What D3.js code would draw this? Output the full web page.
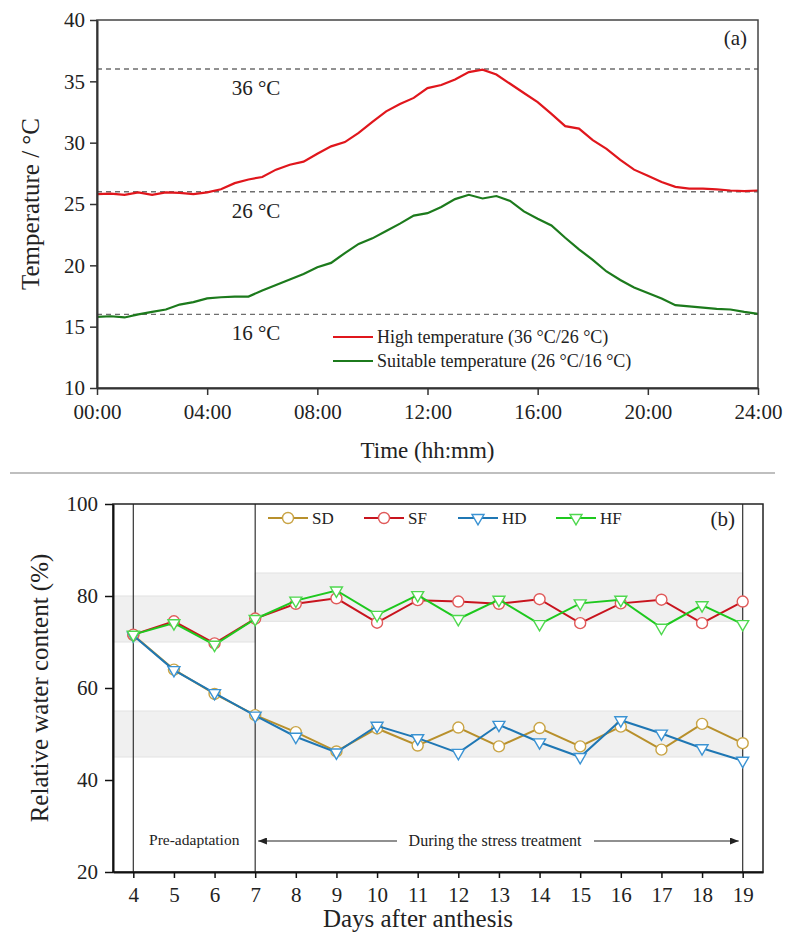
<!DOCTYPE html>
<html>
<head>
<meta charset="utf-8">
<script src="https://cdn.jsdelivr.net/npm/d3@7"></script>
<style>
body { margin: 0; background: #fff; }
text { font-family: "Liberation Serif", "Times New Roman", serif; fill: #222; }
</style>
</head>
<body>
<svg id="chart" width="785" height="940"></svg>
<script>
// panel (a): hourly temperature, sampled every 30 min
var hours = d3.range(0, 24.01, 0.5);
var highTemp = [25.8, 25.85, 25.75, 25.95, 25.75, 25.95, 25.9, 25.8, 25.95, 26.2,
  26.7, 27.0, 27.2, 27.8, 28.2, 28.45, 29.1, 29.7, 30.05, 30.8,
  31.7, 32.55, 33.15, 33.65, 34.45, 34.7, 35.15, 35.75, 35.95, 35.55,
  34.8, 34.05, 33.3, 32.35, 31.35, 31.15, 30.2, 29.5, 28.6, 27.8,
  27.3, 26.8, 26.4, 26.25, 26.25, 26.2, 26.1, 26.05, 26.1];
var suitTemp = [15.8, 15.85, 15.75, 16.0, 16.2, 16.4, 16.8, 17.0, 17.3, 17.4,
  17.45, 17.45, 17.95, 18.4, 18.85, 19.3, 19.85, 20.2, 21.0, 21.75,
  22.2, 22.8, 23.4, 24.05, 24.25, 24.75, 25.4, 25.75, 25.45, 25.65,
  25.25, 24.4, 23.8, 23.25, 22.25, 21.3, 20.45, 19.5, 18.8, 18.2,
  17.75, 17.3, 16.75, 16.65, 16.55, 16.45, 16.4, 16.2, 16.05];
var refTemps = [36, 26, 16];
var timeTicks = [0, 4, 8, 12, 16, 20, 24];
var tempTicks = [10, 15, 20, 25, 30, 35, 40];

// panel (b): relative water content
var days = [4, 5, 6, 7, 8, 9, 10, 11, 12, 13, 14, 15, 16, 17, 18, 19];
var sdVals = [71.5, 64.0, 58.7, 54.1, 50.4, 46.2, 51.2, 47.5, 51.4, 47.3, 51.3, 47.3, 51.6, 46.6, 52.2, 48.0];
var sfVals = [71.6, 74.5, 69.7, 75.1, 78.3, 79.5, 74.2, 79.1, 78.8, 78.3, 79.3, 74.1, 78.4, 79.2, 74.1, 78.8];
var hdVals = [71.4, 63.9, 58.9, 54.0, 49.4, 46.0, 51.8, 49.1, 45.9, 52.0, 48.2, 45.0, 53.0, 50.1, 46.9, 44.2];
var hfVals = [71.6, 74.1, 69.4, 75.0, 79.0, 81.2, 75.9, 80.2, 75.0, 79.2, 73.9, 78.4, 79.2, 73.1, 78.0, 73.9];
var rwcTicks = [20, 40, 60, 80, 100];
var bands = [{x0: 3.5, x1: 7, y0: 70, y1: 80}, {x0: 7, x1: 19, y0: 74.5, y1: 85}, {x0: 3.5, x1: 19, y0: 45, y1: 55}];
var phaseDays = [4, 7, 19];

var svg = d3.select("#chart");

// ---------- panel (a)
var xa = d3.scaleLinear().domain([0, 24]).range([97, 758]);
var ya = d3.scaleLinear().domain([10, 40]).range([388, 20]);

var ga = svg.append("g");

ga.selectAll("line.ref")
  .data(refTemps)
  .enter().append("line")
  .attr("x1", xa(0)).attr("x2", xa(24))
  .attr("y1", function(d){ return ya(d); })
  .attr("y2", function(d){ return ya(d); })
  .attr("stroke", "#6e6e6e")
  .attr("stroke-width", 1.4)
  .attr("stroke-dasharray", "5,4");

ga.selectAll("text.ref")
  .data(refTemps)
  .enter().append("text")
  .attr("x", 256)
  .attr("y", function(d){ return ya(d) + 26; })
  .attr("text-anchor", "middle")
  .style("font-size", "21px")
  .text(function(d){ return d + " °C"; });

var lineA = d3.line()
  .x(function(d, i){ return xa(hours[i]); })
  .y(function(d){ return ya(d); });

ga.append("path").datum(highTemp)
  .attr("d", lineA).attr("fill", "none")
  .attr("stroke", "#e0161c").attr("stroke-width", 2.2);
ga.append("path").datum(suitTemp)
  .attr("d", lineA).attr("fill", "none")
  .attr("stroke", "#1c7a1c").attr("stroke-width", 2.2);

// frame
ga.append("rect")
  .attr("x", xa(0)).attr("y", ya(40))
  .attr("width", xa(24) - xa(0)).attr("height", ya(10) - ya(40))
  .attr("fill", "none").attr("stroke", "#444").attr("stroke-width", 1.5);

var axYa = ga.append("g").attr("transform", "translate(" + xa(0) + ",0)")
  .call(d3.axisLeft(ya).tickValues(tempTicks).tickSize(7).tickPadding(5).tickSizeOuter(0));
var axXa = ga.append("g").attr("transform", "translate(0," + ya(10) + ")")
  .call(d3.axisBottom(xa).tickValues(timeTicks).tickSize(7).tickPadding(9).tickSizeOuter(0)
    .tickFormat(function(d){ return (d < 10 ? "0" : "") + d + ":00"; }));

[axYa, axXa].forEach(function(ax){
  ax.select(".domain").attr("stroke", "#333").attr("stroke-width", 2);
  ax.selectAll(".tick line").attr("stroke", "#333").attr("stroke-width", 1.5);
  ax.selectAll(".tick text").style("font-size", "21px").style("font-family", "Liberation Serif").attr("fill", "#222");
});

ga.append("text")
  .attr("transform", "translate(39," + ((ya(10) + ya(40)) / 2) + ") rotate(-90)")
  .attr("text-anchor", "middle")
  .style("font-size", "25px")
  .text("Temperature / °C");
ga.append("text")
  .attr("x", (xa(0) + xa(24)) / 2).attr("y", 458)
  .attr("text-anchor", "middle")
  .style("font-size", "23px")
  .text("Time (hh:mm)");
ga.append("text")
  .attr("x", 747).attr("y", 45)
  .attr("text-anchor", "end")
  .style("font-size", "21px")
  .text("(a)");

var legA = [{name: "High temperature (36 °C/26 °C)", color: "#e0161c"},
            {name: "Suitable temperature (26 °C/16 °C)", color: "#1c7a1c"}];
var lgA = ga.selectAll("g.lega").data(legA).enter().append("g")
  .attr("transform", function(d, i){ return "translate(333," + (337 + i * 24) + ")"; });
lgA.append("line").attr("x1", 0).attr("x2", 40)
  .attr("stroke", function(d){ return d.color; }).attr("stroke-width", 2.2);
lgA.append("text").attr("x", 44).attr("dy", "0.35em")
  .style("font-size", "18px")
  .text(function(d){ return d.name; });

// separator between panels
svg.append("line").attr("x1", 10).attr("x2", 775).attr("y1", 473).attr("y2", 473)
  .attr("stroke", "#aaa").attr("stroke-width", 1.5);

// ---------- panel (b)
var xb = d3.scaleLinear().domain([3.5, 19.5]).range([113, 763]);
var yb = d3.scaleLinear().domain([20, 100]).range([872, 504]);
var gb = svg.append("g");

gb.selectAll("rect.band").data(bands).enter().append("rect")
  .attr("x", function(d){ return xb(d.x0); })
  .attr("y", function(d){ return yb(d.y1); })
  .attr("width", function(d){ return xb(d.x1) - xb(d.x0); })
  .attr("height", function(d){ return yb(d.y0) - yb(d.y1); })
  .attr("fill", "#f0f0f0").attr("stroke", "#e2e2e2").attr("stroke-width", 1);

gb.selectAll("line.phase").data(phaseDays).enter().append("line")
  .attr("x1", function(d){ return xb(d); }).attr("x2", function(d){ return xb(d); })
  .attr("y1", yb(100)).attr("y2", yb(20))
  .attr("stroke", "#333").attr("stroke-width", 1.2);

var series = [
  {name: "SD", vals: sdVals, color: "#b8902c", mk: "#c9a445", shape: "circle"},
  {name: "SF", vals: sfVals, color: "#c8141e", mk: "#e05a5a", shape: "circle"},
  {name: "HD", vals: hdVals, color: "#1f77b4", mk: "#3b93d3", shape: "tri"},
  {name: "HF", vals: hfVals, color: "#1ec81e", mk: "#4fd84f", shape: "tri"}
];

var lineB = d3.line()
  .x(function(d, i){ return xb(days[i]); })
  .y(function(d){ return yb(d); });
var triPath = d3.symbol().type(d3.symbolTriangle).size(62)();

function drawMarker(sel, s) {
  if (s.shape === "circle") {
    sel.append("circle").attr("r", 5.5)
      .attr("fill", "#fff").attr("stroke", s.mk).attr("stroke-width", 1.4);
  } else {
    sel.append("path").attr("d", triPath).attr("transform", "rotate(180)")
      .attr("fill", "#fff").attr("stroke", s.mk).attr("stroke-width", 1.4);
  }
}

series.forEach(function(s){
  var g = gb.append("g");
  g.append("path").datum(s.vals).attr("d", lineB)
    .attr("fill", "none").attr("stroke", s.color).attr("stroke-width", 2);
  g.selectAll("g.pt").data(s.vals).enter().append("g")
    .attr("transform", function(d, i){ return "translate(" + xb(days[i]) + "," + yb(d) + ")"; })
    .each(function(){ drawMarker(d3.select(this), s); });
});

// frame
gb.append("rect")
  .attr("x", xb(3.5)).attr("y", yb(100))
  .attr("width", xb(19.5) - xb(3.5)).attr("height", yb(20) - yb(100))
  .attr("fill", "none").attr("stroke", "#222").attr("stroke-width", 1.5);

var axYb = gb.append("g").attr("transform", "translate(" + xb(3.5) + ",0)")
  .call(d3.axisLeft(yb).tickValues(rwcTicks).tickSize(8).tickPadding(7).tickSizeOuter(0));
var axXb = gb.append("g").attr("transform", "translate(0," + yb(20) + ")")
  .call(d3.axisBottom(xb).tickValues(days).tickSize(6).tickPadding(9).tickSizeOuter(0));

[axYb, axXb].forEach(function(ax){
  ax.select(".domain").attr("stroke", "#111").attr("stroke-width", 2);
  ax.selectAll(".tick line").attr("stroke", "#111").attr("stroke-width", 1.5);
  ax.selectAll(".tick text").style("font-size", "21px").style("font-family", "Liberation Serif").attr("fill", "#222");
});

gb.append("text")
  .attr("transform", "translate(48," + ((yb(20) + yb(100)) / 2) + ") rotate(-90)")
  .attr("text-anchor", "middle")
  .style("font-size", "25px")
  .text("Relative water content (%)");
gb.append("text")
  .attr("x", 418).attr("y", 927)
  .attr("text-anchor", "middle")
  .style("font-size", "25px")
  .text("Days after anthesis");
gb.append("text")
  .attr("x", 735).attr("y", 526)
  .attr("text-anchor", "end")
  .style("font-size", "21px")
  .text("(b)");

var lgB = gb.selectAll("g.legb").data(series).enter().append("g")
  .attr("transform", function(d, i){ return "translate(" + [268, 364, 458, 556][i] + ",518)"; });
lgB.append("line").attr("x1", 0).attr("x2", 40)
  .attr("stroke", function(d){ return d.color; }).attr("stroke-width", 2);
lgB.each(function(s){
  var m = d3.select(this).append("g").attr("transform", "translate(20,0)");
  drawMarker(m, s);
});
lgB.append("text").attr("x", 44).attr("dy", "0.35em")
  .style("font-size", "17px")
  .text(function(d){ return d.name; });

// phase annotations
var defs = svg.append("defs");
defs.append("marker").attr("id", "arr")
  .attr("viewBox", "0 0 10 8").attr("refX", 10).attr("refY", 4)
  .attr("markerWidth", 9).attr("markerHeight", 7).attr("orient", "auto-start-reverse")
  .attr("markerUnits", "userSpaceOnUse")
  .append("path").attr("d", "M0,0 L10,4 L0,8 Z").attr("fill", "#222");

gb.append("text")
  .attr("x", (xb(4) + xb(7)) / 2).attr("y", 845)
  .attr("text-anchor", "middle")
  .style("font-size", "15.5px")
  .text("Pre-adaptation");
gb.append("text")
  .attr("x", 495).attr("y", 846)
  .attr("text-anchor", "middle")
  .style("font-size", "16px")
  .text("During the stress treatment");
gb.append("line")
  .attr("x1", 397).attr("x2", xb(7) + 3).attr("y1", 841).attr("y2", 841)
  .attr("stroke", "#222").attr("stroke-width", 1.2).attr("marker-end", "url(#arr)");
gb.append("line")
  .attr("x1", 594).attr("x2", xb(19) - 4).attr("y1", 841).attr("y2", 841)
  .attr("stroke", "#222").attr("stroke-width", 1.2).attr("marker-end", "url(#arr)");
</script>
</body>
</html>
